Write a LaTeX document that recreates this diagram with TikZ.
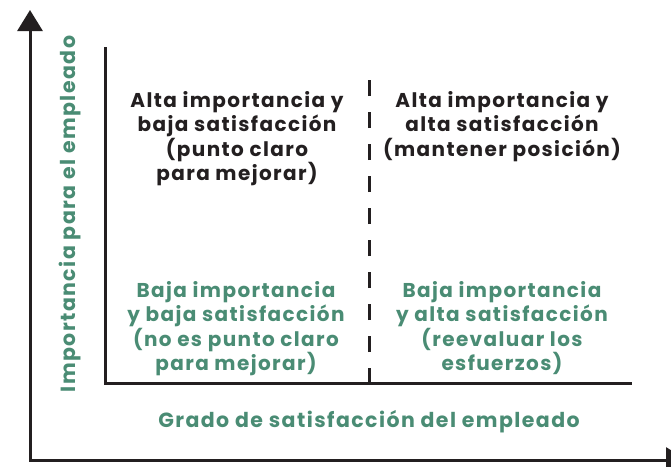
\documentclass[tikz,border=0pt]{standalone}
\usepackage{fontspec}
\setmainfont{Poppins}[LetterSpace=7]
\usetikzlibrary{arrows.meta,positioning}
\definecolor{verde}{RGB}{74,140,116}
\definecolor{negro}{RGB}{35,31,32}

\begin{document}
\begin{tikzpicture}[x=1pt,y=-1pt, every node/.style={font=\bfseries\fontsize{20}{24.5}\selectfont,inner sep=0pt},
 cuad/.style={align=center,anchor=north,text=negro},
 cuadv/.style={align=center,anchor=north,text=verde},
 eje/.style={text=verde,anchor=base,font=\bfseries\fontsize{20.5}{24}\selectfont},
 flecha/.style={line width=3pt,draw=negro,{Triangle[length=21pt,width=25pt]}-{Triangle[length=21pt,width=25pt]}},
 linea/.style={line width=3pt,draw=negro}]
\useasboundingbox (0,0) rectangle (671,466);
\coordinate (arriba) at (30,10);
\coordinate (origen) at (30,460);
\coordinate (derecha) at (687,460);
\coordinate (ia) at (105,47);
\coordinate (io) at (105,383);
\coordinate (id) at (632,383);
\coordinate (da) at (369,384);
\coordinate (db) at (369,80);
\draw[flecha,line join=miter](arriba)--(origen)--(derecha);
\draw[linea,line join=miter](ia)--(io)--(id);
\draw[linea,dash pattern=on 16pt off 16pt](da)--(db);
\node[cuad](ai) at (237,91){Alta importancia y\\baja satisfacción\\(punto claro\\para mejorar)};
\node[cuad](aa) at (502,91){Alta importancia y\\alta satisfacción\\(mantener posición)};
\node[cuadv](bi) at (236,281){Baja importancia\\y baja satisfacción\\(no es punto claro\\para mejorar)};
\node[cuadv](ba) at (502,281){Baja importancia\\y alta satisfacción\\(reevaluar los\\esfuerzos)};
\node[eje,rotate=90](ey) at (75,214){Importancia para el empleado};
\node[eje](ex) at (369,427){Grado de satisfacción del empleado};
\end{tikzpicture}
\end{document}
